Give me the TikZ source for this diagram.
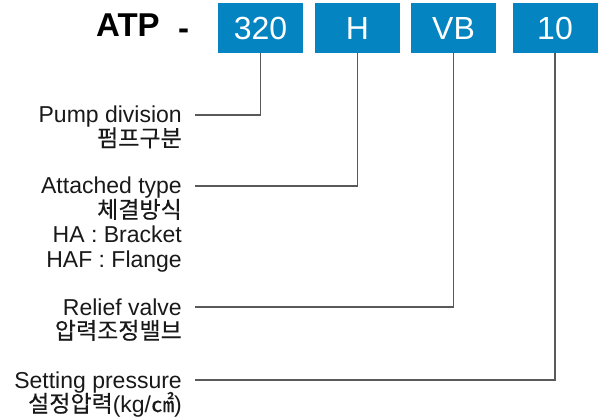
\documentclass[tikz,border=0pt]{standalone}
\usepackage{fontspec}
\setmainfont{Liberation Sans}
\newfontfamily\kr[FakeBold=0.25]{Noto Sans CJK KR}
\definecolor{codeblue}{RGB}{4,132,192}
\begin{document}
\begin{tikzpicture}[x = 1pt, y = -1pt]
\tikzset{
  codebox/.style = {fill = codeblue, text = white, minimum width = 85pt, minimum height = 50pt, inner sep = 0pt, font = \fontsize{32}{32}\selectfont},
  head/.style = {anchor = base east, inner sep = 0pt, text height = 16pt, text depth = 0pt, text = black!90, font = \fontsize{23}{24}\selectfont},
  desc/.style = {anchor = base east, inner sep = 0pt, text = black!90, font = \fontsize{23}{24}\selectfont},
  lead/.style = {draw = black!65, line width = 1.3pt}
}
\useasboundingbox (0,0) rectangle (601,419);
\node[anchor = base west, inner sep = 0pt, font = \fontsize{33}{33}\selectfont\bfseries] (atp) at (96,37) {ATP};
\node[anchor = base west, inner sep = 0pt, font = \fontsize{33}{33}\selectfont\bfseries] (dash) at (178,40) {-};
\foreach \name / \x in {320/260.5, H/357.5, VB/453.5, 10/555}
{
  \node[codebox] (b\name) at (\x,28) {\name};
}
% descriptions
\node[head] (pump) at (182,123) {Pump division};
\node[desc] (pumpkr) at (182,146.5) {\kr 펌프구분};
\node[head] (attach) at (182,194) {Attached type};
\node[desc] (attachkr) at (182,218) {\kr 체결방식};
\node[desc] (ha) at (182,243) {HA : Bracket};
\node[desc] (haf) at (182,267) {HAF : Flange};
\node[head] (relief) at (182,315) {Relief valve};
\node[desc] (reliefkr) at (182,339) {\kr 압력조정밸브};
\node[head] (setting) at (182,388) {Setting pressure};
\node[desc] (settingkr) at (182,412) {{\kr 설정압력}(kg/{\kr ㎠})};
% leads
\draw[lead] ([xshift = 13pt]pump.east) -| (b320.south);
\draw[lead] ([xshift = 13pt]attach.east) -| (bH.south);
\draw[lead] ([xshift = 13pt]relief.east) -| (bVB.south);
\draw[lead] ([xshift = 13pt]setting.east) -| (b10.south);
\end{tikzpicture}
\end{document}
